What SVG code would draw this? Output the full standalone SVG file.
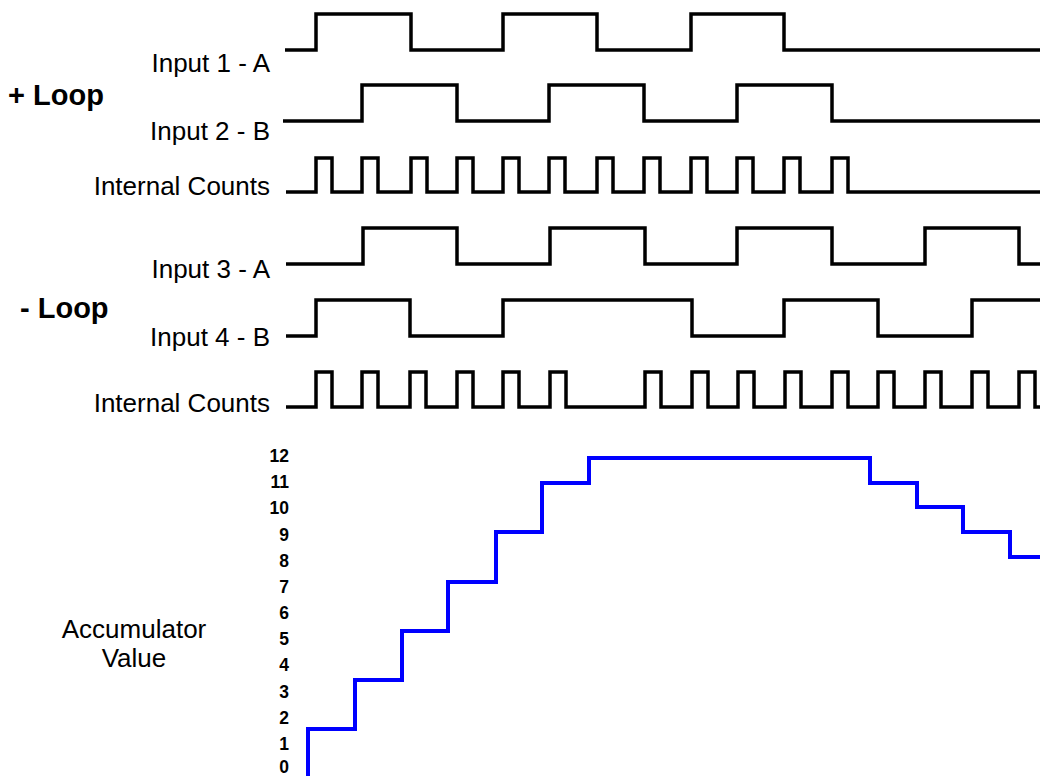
<svg xmlns="http://www.w3.org/2000/svg" width="1040" height="776" viewBox="0 0 1040 776">
<style>
.lbl{font-family:"Liberation Sans",Arial,sans-serif;font-size:26px;fill:#000;text-anchor:end}
.loop{font-family:"Liberation Sans",Arial,sans-serif;font-size:29px;font-weight:bold;fill:#000}
.num{font-family:"Liberation Sans",Arial,sans-serif;font-size:17.5px;font-weight:bold;fill:#000;text-anchor:end}
.acc{font-family:"Liberation Sans",Arial,sans-serif;font-size:26px;fill:#000;text-anchor:middle}
.wave{fill:none;stroke:#000;stroke-width:3.5;stroke-linejoin:miter}
.accline{fill:none;stroke:#0000ff;stroke-width:4}
</style>
<rect width="1040" height="776" fill="#fff"/>
<g id="labels">
<text class="loop" x="8" y="105">+ Loop</text>
<text class="loop" x="20" y="318">- Loop</text>
<text class="lbl" x="270" y="72">Input 1 - A</text>
<text class="lbl" x="270" y="140">Input 2 - B</text>
<text class="lbl" x="270" y="195">Internal Counts</text>
<text class="lbl" x="270" y="278">Input 3 - A</text>
<text class="lbl" x="270" y="346">Input 4 - B</text>
<text class="lbl" x="270" y="412">Internal Counts</text>
<text class="acc" x="134" y="638">Accumulator</text>
<text class="acc" x="134" y="667">Value</text>
</g>
<g id="waves">
<path id="input1" class="wave" d="M285,50 H316 V14 H411 V50 H503 V14 H597 V50 H691 V14 H784 V50 H1040"/>
<path id="input2" class="wave" d="M283,121 H362 V85 H457 V121 H549 V85 H644 V121 H737 V85 H832 V121 H1040"/>
<path id="counts1" class="wave" d="M286,192 H316 V158 H332 V192 H362 V158 H378 V192 H411 V158 H427 V192 H457 V158 H473 V192 H503 V158 H519 V192 H549 V158 H565 V192 H597 V158 H613 V192 H644 V158 H660 V192 H691 V158 H707 V192 H737 V158 H753 V192 H784 V158 H800 V192 H832 V158 H848 V192 H1040"/>
<path id="input3" class="wave" d="M286,264 H363 V228 H457 V264 H550 V228 H645 V264 H737 V228 H832 V264 H925 V228 H1019 V264 H1040"/>
<path id="input4" class="wave" d="M286,336 H316 V300 H410 V336 H503 V300 H692 V336 H784 V300 H878 V336 H972 V300 H1040"/>
<path id="counts2" class="wave" d="M286,407 H316 V372 H332 V407 H362 V372 H378 V407 H410 V372 H426 V407 H457 V372 H473 V407 H503 V372 H519 V407 H550 V372 H566 V407 H645 V372 H661 V407 H692 V372 H708 V407 H738 V372 H754 V407 H785 V372 H801 V407 H832 V372 H848 V407 H878 V372 H894 V407 H925 V372 H941 V407 H972 V372 H988 V407 H1019 V372 H1035 V407 H1040"/>
</g>
<g id="axis">
<text class="num" x="289" y="462">12</text>
<text class="num" x="289" y="488">11</text>
<text class="num" x="289" y="514">10</text>
<text class="num" x="289" y="541">9</text>
<text class="num" x="289" y="567">8</text>
<text class="num" x="289" y="593">7</text>
<text class="num" x="289" y="619">6</text>
<text class="num" x="289" y="645">5</text>
<text class="num" x="289" y="671">4</text>
<text class="num" x="289" y="698">3</text>
<text class="num" x="289" y="724">2</text>
<text class="num" x="289" y="750">1</text>
<text class="num" x="289" y="773">0</text>
</g>
<g id="accumulator">
<path class="accline" d="M308,776 V729 H355 V680 H402 V631 H448 V582 H496 V532 H542 V483 H589 V458 H870 V483 H917 V507 H963 V532 H1010 V557 H1040"/>
</g>
</svg>
